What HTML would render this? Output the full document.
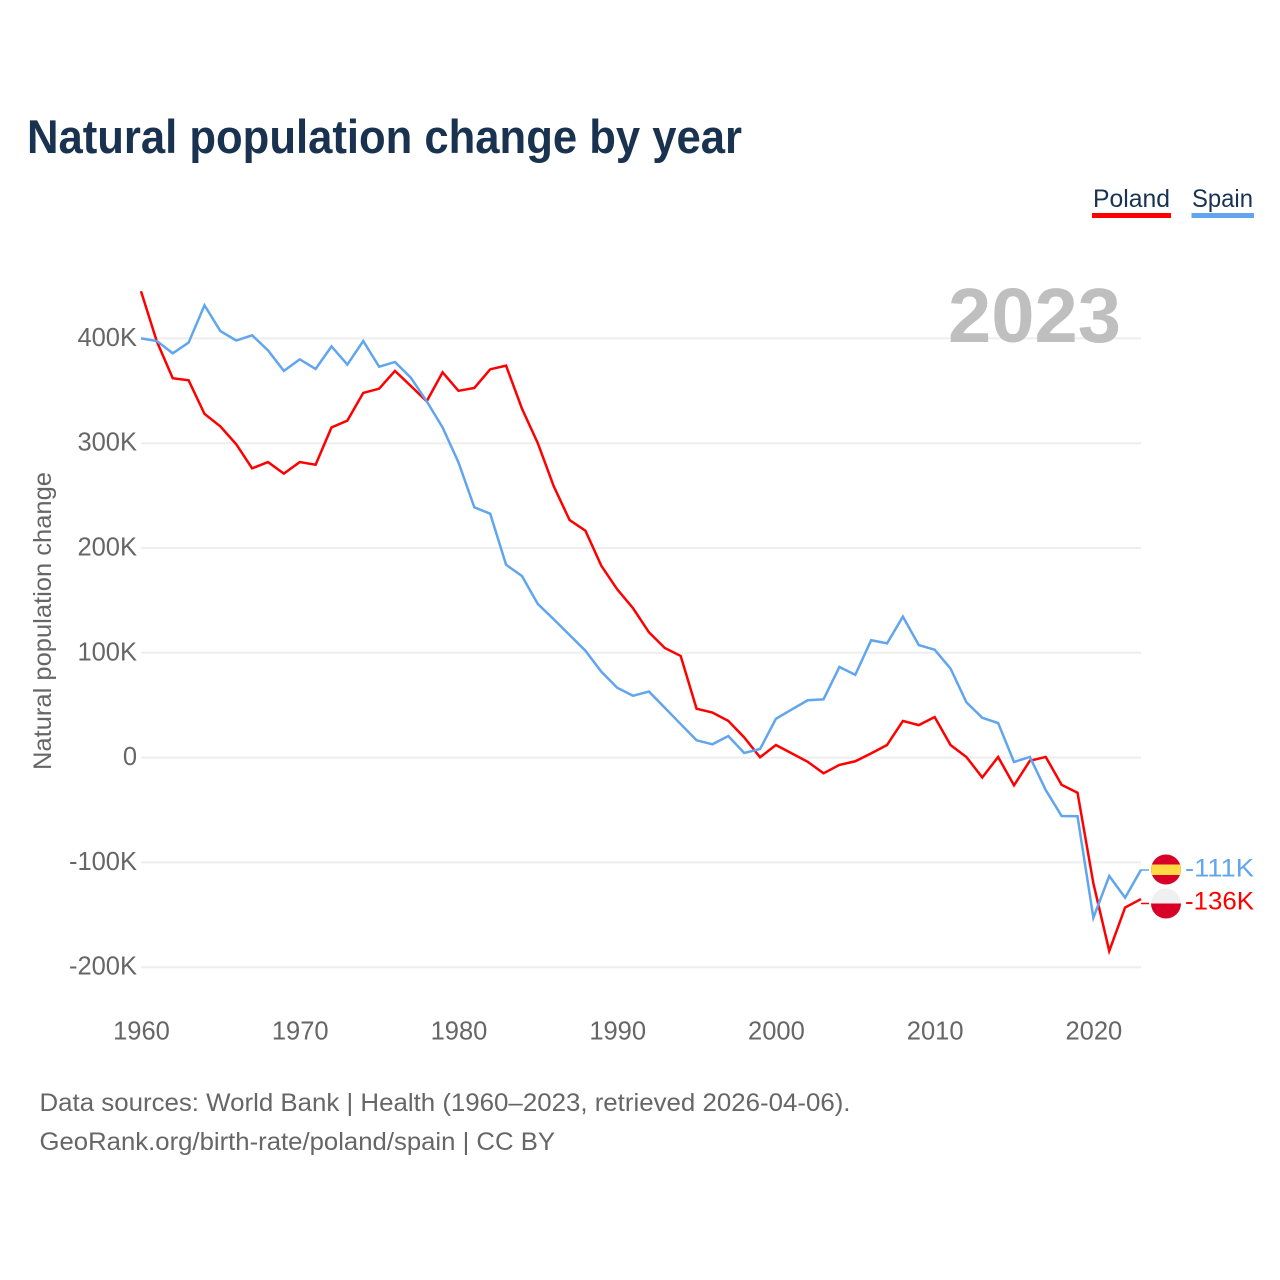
<!DOCTYPE html>
<html lang="en">
<head>
<meta charset="utf-8">
<title>Natural population change by year</title>
<style>
  html, body { margin: 0; padding: 0; background: #fff; }
  svg { display: block; }
  text { font-family: "Liberation Sans", sans-serif; }
</style>
</head>
<body>
<svg id="chart" xmlns="http://www.w3.org/2000/svg" width="1280" height="1280" viewBox="0 0 1280 1280">
  <rect x="0" y="0" width="1280" height="1280" fill="#ffffff"/>
  <text x="27" y="153" font-size="47" font-weight="700" fill="#18324f" textLength="715" lengthAdjust="spacingAndGlyphs">Natural population change by year</text>

  <g>
    <text x="1093" y="207" font-size="25" fill="#18324f" textLength="77" lengthAdjust="spacingAndGlyphs">Poland</text>
    <rect x="1092" y="213" width="79" height="5" fill="#ff0000"/>
  </g>
  <g>
    <text x="1192" y="207" font-size="25" fill="#18324f" textLength="61" lengthAdjust="spacingAndGlyphs">Spain</text>
    <rect x="1191.5" y="213" width="62.5" height="5" fill="#60a5ee"/>
  </g>

  <g id="grid"></g>
  <text x="948" y="342" font-size="77" font-weight="700" fill="#bfbfbf" textLength="173" lengthAdjust="spacingAndGlyphs">2023</text>
  <g id="yTicks"></g>
  <g id="xTicks"></g>
  <text transform="translate(51 770) rotate(-90)" font-size="25" fill="#666666" textLength="298" lengthAdjust="spacingAndGlyphs">Natural population change</text>
  <g id="series"></g>

  <defs>
    <clipPath id="spainClip"><circle cx="1166" cy="869.5" r="15"/></clipPath>
    <clipPath id="polandClip"><circle cx="1166" cy="903.5" r="15"/></clipPath>
  </defs>
  <g clip-path="url(#spainClip)">
    <rect x="1150" y="854" width="32" height="31" fill="#d80027"/>
    <rect x="1150" y="864.5" width="32" height="10.5" fill="#ffda44"/>
  </g>
  <g clip-path="url(#polandClip)">
    <rect x="1150" y="888" width="32" height="16" fill="#f0f0f0"/>
    <rect x="1150" y="903.5" width="32" height="16" fill="#d80027"/>
  </g>
  <line x1="1141" y1="870" x2="1149" y2="870" stroke="#60a5ee" stroke-width="1.5"/>
  <line x1="1141" y1="903.5" x2="1149" y2="903.5" stroke="#ff0000" stroke-width="1.5"/>
  <text x="1185" y="876.5" font-size="25" fill="#60a5ee" textLength="69" lengthAdjust="spacingAndGlyphs">-111K</text>
  <text x="1185" y="909.5" font-size="25" fill="#ff0000" textLength="69" lengthAdjust="spacingAndGlyphs">-136K</text>

  <text x="39.5" y="1111" font-size="25" fill="#666666" textLength="811" lengthAdjust="spacingAndGlyphs">Data sources: World Bank | Health (1960–2023, retrieved 2026-04-06).</text>
  <text x="39.5" y="1150" font-size="25" fill="#666666" textLength="515.5" lengthAdjust="spacingAndGlyphs">GeoRank.org/birth-rate/poland/spain | CC BY</text>
</svg>

<script>
const firstYear = 1960;
const xTickYears = [1960, 1970, 1980, 1990, 2000, 2010, 2020];
const yTickValues = [400, 300, 200, 100, 0, -100, -200];
const yTickLabels = ["400K", "300K", "200K", "100K", "0", "-100K", "-200K"];
const polandValues = [445, 397, 362, 360, 328, 316, 299, 276, 282, 271, 282, 279.5, 315, 321.5, 348, 352, 369, 354.6, 340, 367.6, 350, 352.7, 370.5, 374, 333, 300, 259, 226.7, 216.5, 183, 160.6, 142.5, 119.6, 104.6, 97, 46.7, 43, 35, 19.3, 0.3, 12, 4, -4, -15, -7, -3.5, 4, 12, 35, 31, 38.7, 12, 0.6, -19, 0.6, -26.5, -3, 0.6, -26, -33.5, -120, -184.5, -143, -135];
const spainValues = [400, 397.5, 385.8, 396, 431.6, 407, 398, 403, 388.6, 369, 380, 370.8, 392.4, 375, 397.5, 373, 377.5, 362.5, 340, 315, 281.7, 238.8, 232.7, 184, 173.3, 146.6, 132, 117, 102, 82, 66.7, 59, 63, 47.6, 32, 16.5, 12.7, 20.6, 4.4, 8.2, 37, 46, 54.7, 55.6, 86.5, 79, 112, 109, 134.5, 107.4, 103, 85, 52.8, 38, 33, -4.2, 0.6, -31, -55.7, -56, -152.8, -113, -133.7, -107];

const NS = "http://www.w3.org/2000/svg";
const xScale = year => 141 + (year - 1960) * 15.873;
const yScale = value => 757.6 - value * 1.048;

const gridGroup = document.getElementById("grid");
const yTickGroup = document.getElementById("yTicks");
const xTickGroup = document.getElementById("xTicks");
const seriesGroup = document.getElementById("series");

yTickValues.forEach((value, i) => {
  const line = document.createElementNS(NS, "line");
  
  
  line.setAttribute("x1", 141);
  line.setAttribute("x2", 1141);
  line.setAttribute("y1", yScale(value));
  line.setAttribute("y2", yScale(value));
  line.setAttribute("stroke", "#eeeeee");
  line.setAttribute("stroke-width", 2);
  gridGroup.appendChild(line);

  const label = document.createElementNS(NS, "text");
  
  
  label.setAttribute("x", 137);
  label.setAttribute("y", yScale(value) + 7.5);
  label.setAttribute("text-anchor", "end");
  label.setAttribute("font-size", 25.5);
  label.setAttribute("fill", "#666666");
  label.textContent = yTickLabels[i];
  yTickGroup.appendChild(label);
});

xTickYears.forEach(year => {
  const label = document.createElementNS(NS, "text");
  
  
  label.setAttribute("x", xScale(year) + 0.5);
  label.setAttribute("y", 1039.5);
  label.setAttribute("text-anchor", "middle");
  label.setAttribute("font-size", 25.5);
  label.setAttribute("fill", "#666666");
  label.textContent = String(year);
  xTickGroup.appendChild(label);
});

function linePoints(values) {
  return values.map((value, i) => xScale(firstYear + i).toFixed(2) + "," + yScale(value).toFixed(2)).join(" ");
}

const polandLine = document.createElementNS(NS, "polyline");


polandLine.setAttribute("points", linePoints(polandValues));
polandLine.setAttribute("fill", "none");
polandLine.setAttribute("stroke", "#ff0000");
polandLine.setAttribute("stroke-width", 2.5);
seriesGroup.appendChild(polandLine);

const spainLine = document.createElementNS(NS, "polyline");


spainLine.setAttribute("points", linePoints(spainValues));
spainLine.setAttribute("fill", "none");
spainLine.setAttribute("stroke", "#60a5ee");
spainLine.setAttribute("stroke-width", 2.5);
seriesGroup.appendChild(spainLine);
</script>
</body>
</html>
